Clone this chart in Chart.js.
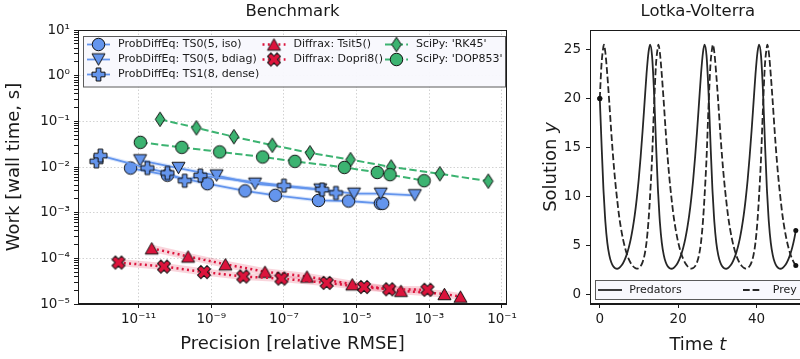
<!DOCTYPE html>
<html>
<head>
<meta charset="utf-8">
<script src="https://cdn.jsdelivr.net/npm/chart.js@4.4.1/dist/chart.umd.min.js"></script>
<style>
  html, body { margin: 0; padding: 0; background: #fff; overflow: hidden; }
  body { width: 800px; height: 359px; position: relative; }
  #bench { position: absolute; left: 0; top: 0; }
  #lv { position: absolute; left: 540px; top: 0; }
</style>
</head>
<body>
<canvas id="bench" width="520" height="359"></canvas>
<canvas id="lv" width="270" height="359"></canvas>
<script>
// ---- Benchmark: precision (relative RMSE) vs work (wall time, s) ----
const isoPrec = [6.0e-12, 6.2e-11, 7.8e-10, 8.5e-9, 5.8e-8, 8.9e-7, 6.0e-6, 4.5e-5, 5.2e-5];
const isoWork = [9.5e-3, 6.6e-3, 4.3e-3, 3.0e-3, 2.4e-3, 1.85e-3, 1.8e-3, 1.6e-3, 1.6e-3];
const bdiagPrec = [1.1e-11, 1.25e-10, 1.4e-9, 1.6e-8, 1.0e-6, 8.5e-6, 4.6e-5, 4.0e-4];
const bdiagWork = [1.4e-2, 9.5e-3, 6.5e-3, 4.3e-3, 3.2e-3, 2.6e-3, 2.6e-3, 2.4e-3];
const densePrec = [6.9e-13, 8.9e-13, 1.74e-11, 6.2e-11, 1.86e-10, 5.0e-10, 1.0e-7, 1.12e-6, 2.7e-6];
const denseWork = [1.33e-2, 1.78e-2, 9.5e-3, 7.4e-3, 5.0e-3, 6.5e-3, 3.9e-3, 3.2e-3, 2.7e-3];
const tsit5Prec = [2.3e-11, 2.3e-10, 2.45e-9, 3.0e-8, 4.3e-7, 7.6e-6, 1.66e-4, 2.6e-3, 7.2e-3];
const tsit5Work = [1.66e-4, 1.10e-4, 7.4e-5, 5.1e-5, 4.0e-5, 2.7e-5, 1.95e-5, 1.66e-5, 1.45e-5];
const dopri8Prec = [2.8e-12, 5.0e-11, 6.3e-10, 7.6e-9, 8.5e-8, 1.5e-6, 1.6e-5, 7.9e-5, 8.9e-4];
const dopri8Work = [8.1e-5, 6.6e-5, 5.0e-5, 4.0e-5, 3.6e-5, 2.9e-5, 2.35e-5, 2.1e-5, 2.05e-5];
const rk45Prec = [3.9e-11, 3.9e-10, 4.2e-9, 4.8e-8, 5.2e-7, 6.8e-6, 8.9e-5, 1.95e-3, 4.2e-2];
const rk45Work = [0.111, 0.072, 0.046, 0.030, 0.0204, 0.0145, 0.010, 7.1e-3, 4.9e-3];
const dop853Prec = [1.12e-11, 1.55e-10, 1.7e-9, 2.6e-8, 2.0e-7, 4.6e-6, 3.7e-5, 8.3e-5, 7.2e-4];
const dop853Work = [0.0347, 0.0269, 0.0214, 0.0166, 0.0133, 0.0098, 0.0076, 0.0068, 0.0050];

const benchXTickValues = [1e-11, 1e-9, 1e-7, 1e-5, 1e-3, 1e-1];
const benchXTickLabels = ['10⁻¹¹', '10⁻⁹', '10⁻⁷', '10⁻⁵', '10⁻³', '10⁻¹'];
const benchYTickValues = [1e-5, 1e-4, 1e-3, 1e-2, 1e-1, 1, 10];
const benchYTickLabels = ['10⁻⁵', '10⁻⁴', '10⁻³', '10⁻²', '10⁻¹', '10⁰', '10¹'];

// ---- Lotka-Volterra solution ----
const lvTime = [
  0, 0.42, 0.92, 1.02, 1.42, 1.92, 2.42, 2.92, 3.42, 3.92, 4.42, 4.92, 5.42, 5.92, 6.42, 6.92, 7.42, 7.92, 8.42, 8.92, 9.42, 9.92, 10.42, 10.92, 11.42, 11.92, 12.42,
  12.82, 13.32, 13.82, 14.32, 14.82, 14.92, 15.32, 15.82, 16.32, 16.82, 17.32, 17.82, 18.32, 18.82, 19.32, 19.82, 20.32, 20.82, 21.32, 21.82, 22.32, 22.82, 23.32, 23.82, 24.32, 24.82, 25.32, 25.82, 26.32,
  26.72, 27.22, 27.72, 28.22, 28.72, 28.82, 29.22, 29.72, 30.22, 30.72, 31.22, 31.72, 32.22, 32.72, 33.22, 33.72, 34.22, 34.72, 35.22, 35.72, 36.22, 36.72, 37.22, 37.72, 38.22, 38.72, 39.22, 39.72, 40.22,
  40.62, 41.12, 41.62, 42.12, 42.62, 42.72, 43.12, 43.62, 44.12, 44.62, 45.12, 45.62, 46.12, 46.62, 47.12, 47.62, 48.12, 48.62, 49.12, 49.62, 50
];
const lvPredators = [
  20, 15.6, 10.8, 10.1, 7.4, 5.25, 4.0, 3.26, 2.85, 2.66, 2.6, 2.69, 2.88, 3.17, 3.58, 4.12, 4.81, 5.68, 6.77, 8.1, 9.75, 11.7, 14.05, 16.7, 19.6, 22.5, 24.7,
  25.5, 24.4, 20.8, 15.6, 10.8, 10.1, 7.4, 5.25, 4.0, 3.26, 2.85, 2.66, 2.6, 2.69, 2.88, 3.17, 3.58, 4.12, 4.81, 5.68, 6.77, 8.1, 9.75, 11.7, 14.05, 16.7, 19.6, 22.5, 24.7,
  25.5, 24.4, 20.8, 15.6, 10.8, 10.1, 7.4, 5.25, 4.0, 3.26, 2.85, 2.66, 2.6, 2.69, 2.88, 3.17, 3.58, 4.12, 4.81, 5.68, 6.77, 8.1, 9.75, 11.7, 14.05, 16.7, 19.6, 22.5, 24.7,
  25.5, 24.4, 20.8, 15.6, 10.8, 10.1, 7.4, 5.25, 4.0, 3.26, 2.85, 2.66, 2.6, 2.69, 2.88, 3.17, 3.58, 4.12, 4.81, 5.68, 6.5
];
const lvPrey = [
  20, 23.4, 25.3, 25.5, 24.7, 22.4, 19.6, 16.6, 13.9, 11.6, 9.7, 8.0, 6.7, 5.63, 4.77, 4.08, 3.56, 3.16, 2.88, 2.70, 2.62, 2.67, 2.87, 3.28, 4.02, 5.31, 7.48,
  10.0, 13.8, 19.0, 23.4, 25.3, 25.5, 24.7, 22.4, 19.6, 16.6, 13.9, 11.6, 9.7, 8.0, 6.7, 5.63, 4.77, 4.08, 3.56, 3.16, 2.88, 2.70, 2.62, 2.67, 2.87, 3.28, 4.02, 5.31, 7.48,
  10.0, 13.8, 19.0, 23.4, 25.3, 25.5, 24.7, 22.4, 19.6, 16.6, 13.9, 11.6, 9.7, 8.0, 6.7, 5.63, 4.77, 4.08, 3.56, 3.16, 2.88, 2.70, 2.62, 2.67, 2.87, 3.28, 4.02, 5.31, 7.48,
  10.0, 13.8, 19.0, 23.4, 25.3, 25.5, 24.7, 22.4, 19.6, 16.6, 13.9, 11.6, 9.7, 8.0, 6.7, 5.63, 4.77, 4.08, 3.56, 3.16, 2.93
];
const lvXTicks = [0, 20, 40];
const lvYTicks = [0, 5, 10, 15, 20, 25];

Chart.defaults.font.family = "'DejaVu Sans', sans-serif";
Chart.defaults.color = '#1a1a1a';
Chart.defaults.animation = false;

const blue = '#6495ED', green = '#3CB371', red = '#DC143C', ink = '#1a1a1a';

// filled matplotlib-like markers drawn once into small canvases
function makeMarker(shape, fill, w, h) {
  const c = document.createElement('canvas');
  c.width = Math.ceil(w + 4);
  c.height = Math.ceil(h + 4);
  const g = c.getContext('2d');
  g.translate(c.width / 2, c.height / 2);
  const a = w / 2, b = h / 2;
  g.beginPath();
  if (shape === 'circle') {
    g.arc(0, 0, a, 0, 2 * Math.PI);
  } else if (shape === 'triUp') {
    g.moveTo(0, -b); g.lineTo(a, b); g.lineTo(-a, b); g.closePath();
  } else if (shape === 'triDown') {
    g.moveTo(0, b); g.lineTo(a, -b); g.lineTo(-a, -b); g.closePath();
  } else if (shape === 'diamond') {
    g.moveTo(0, -b); g.lineTo(a, 0); g.lineTo(0, b); g.lineTo(-a, 0); g.closePath();
  } else {
    const t = a * 0.36;
    if (shape === 'x') g.rotate(Math.PI / 4);
    const p = [[-t, -a], [t, -a], [t, -t], [a, -t], [a, t], [t, t], [t, a], [-t, a], [-t, t], [-a, t], [-a, -t], [-t, -t]];
    p.forEach((q, i) => i ? g.lineTo(q[0], q[1]) : g.moveTo(q[0], q[1]));
    g.closePath();
  }
  g.fillStyle = fill;
  g.fill();
  g.lineWidth = 1;
  g.strokeStyle = '#111';
  g.stroke();
  return c;
}

const pts = (xs, ys) => xs.map((x, i) => ({ x: x, y: ys[i] }));

function solver(label, xs, ys, color, marker, dash, width, order) {
  return {
    label: label, data: pts(xs, ys), borderColor: color, backgroundColor: color,
    borderWidth: width, borderDash: dash, pointStyle: marker, pointRadius: 6,
    pointHoverRadius: 6, order: order, tension: 0
  };
}
function band(xs, ys, color, width) {
  return { label: '', band: true, data: pts(xs, ys), borderColor: color, borderWidth: width, pointRadius: 0, order: 20 };
}

const dotted = [2, 3.3], dashed = [7.4, 3.2];
const benchSets = [
  solver('ProbDiffEq: TS0(5, iso)', isoPrec, isoWork, blue, makeMarker('circle', blue, 12.5, 12.5), [], 1.8, 7),
  solver('ProbDiffEq: TS0(5, bdiag)', bdiagPrec, bdiagWork, blue, makeMarker('triDown', blue, 13, 11.5), [], 1.8, 6),
  solver('ProbDiffEq: TS1(8, dense)', densePrec, denseWork, blue, makeMarker('plus', blue, 13, 13), [], 1.8, 5),
  solver('Diffrax: Tsit5()', tsit5Prec, tsit5Work, red, makeMarker('triUp', red, 13, 11.5), dotted, 2.5, 4),
  solver('Diffrax: Dopri8()', dopri8Prec, dopri8Work, red, makeMarker('x', red, 13.5, 13.5), dotted, 2.5, 3),
  solver("SciPy: 'RK45'", rk45Prec, rk45Work, green, makeMarker('diamond', green, 9.5, 14.5), dashed, 2, 2),
  solver("SciPy: 'DOP853'", dop853Prec, dop853Work, green, makeMarker('circle', green, 12.5, 12.5), dashed, 2, 1),
  band(isoPrec, isoWork, 'rgba(100,149,237,0.22)', 4),
  band(bdiagPrec, bdiagWork, 'rgba(100,149,237,0.22)', 4),
  band(densePrec, denseWork, 'rgba(100,149,237,0.22)', 4),
  band(tsit5Prec, tsit5Work, 'rgba(220,20,60,0.18)', 7),
  band(dopri8Prec, dopri8Work, 'rgba(220,20,60,0.18)', 7)
];

// legend slots: dataset index, column, row
const benchLegendSlots = [[0, 0, 0], [1, 0, 1], [2, 0, 2], [3, 1, 0], [4, 1, 1], [5, 2, 0], [6, 2, 1]];
const legendColX = [87, 262.5, 385];
const legendRowY = [44.5, 59.5, 74.5];

const framePlugin = {
  id: 'frame',
  afterDraw(chart) {
    const { ctx, chartArea: a } = chart;
    const l = Math.round(a.left) + 0.5, t = Math.round(a.top) + 0.5;
    const r = Math.round(a.right) - 0.5, b = Math.round(a.bottom) - 0.5;
    ctx.save();
    ctx.strokeStyle = ink;
    ctx.lineWidth = 1;
    ctx.strokeRect(l, t, r - l, b - t);
    ctx.restore();
  }
};

function legendLine(ctx, x0, x1, y, color, width, dash) {
  ctx.save();
  ctx.strokeStyle = color;
  ctx.lineWidth = width;
  ctx.setLineDash(dash || []);
  ctx.beginPath();
  ctx.moveTo(x0, y);
  ctx.lineTo(x1, y);
  ctx.stroke();
  ctx.restore();
}

const benchLegendPlugin = {
  id: 'benchLegend',
  afterDatasetsDraw(chart) {
    const ctx = chart.ctx;
    ctx.save();
    ctx.fillStyle = 'rgba(248,248,253,0.95)';
    ctx.strokeStyle = '#5a5a5a';
    ctx.lineWidth = 1;
    ctx.fillRect(83.5, 36.5, 422, 50.5);
    ctx.strokeRect(83.5, 36.5, 422, 50.5);
    ctx.font = "11px 'DejaVu Sans'";
    ctx.textBaseline = 'middle';
    benchLegendSlots.forEach(([i, col, row]) => {
      const ds = chart.data.datasets[i];
      const x0 = legendColX[col], y = legendRowY[row];
      legendLine(ctx, x0, x0 + 23, y, ds.borderColor, ds.borderWidth, ds.borderDash);
      const m = ds.pointStyle;
      ctx.drawImage(m, x0 + 11.5 - m.width / 2, y - m.height / 2);
      ctx.fillStyle = ink;
      ctx.fillText(ds.label, x0 + 31, y);
    });
    ctx.restore();
  }
};

const labelCallback = function (value, index, ticks) { return ticks[index].txt || ''; };
const gridColor = c => (c.tick && c.tick.txt) ? '#d2d2d2' : 'rgba(0,0,0,0)';

new Chart(document.getElementById('bench'), {
  type: 'line',
  data: { datasets: benchSets },
  options: {
    responsive: false,
    animation: false,
    layout: { padding: { left: 0, right: 10, top: 0, bottom: 0 } },
    plugins: {
      legend: { display: false },
      tooltip: { enabled: false },
      title: {
        display: true, text: 'Benchmark', fullSize: false, color: ink,
        font: { size: 16.5, weight: 'normal' }, padding: { top: 2, bottom: 8.2 }
      }
    },
    scales: {
      x: {
        type: 'logarithmic', min: Math.pow(10, -12.667), max: Math.pow(10, -0.863),
        afterFit: s => { s.height = 55; },
        afterBuildTicks: s => {
          s.ticks = benchXTickValues.map((v, i) => ({ value: v, txt: benchXTickLabels[i] }));
        },
        ticks: { autoSkip: false, maxRotation: 0, font: { size: 13.5 }, padding: 3, callback: labelCallback },
        grid: { color: gridColor, tickColor: ink, tickLength: 4 },
        border: { color: ink, width: 1, dash: [1.5, 2] },
        title: { display: true, text: 'Precision [relative RMSE]', color: ink, font: { size: 18 }, padding: { top: 0, bottom: 3.5 } }
      },
      y: {
        type: 'logarithmic', min: 1e-5, max: 10,
        afterFit: s => { s.width = 78; },
        afterBuildTicks: s => {
          const ticks = [];
          benchYTickValues.forEach((v, i) => {
            ticks.push({ value: v, txt: benchYTickLabels[i] });
            if (v < 10) for (let m = 2; m <= 9; m++) ticks.push({ value: v * m });
          });
          s.ticks = ticks.sort((p, q) => p.value - q.value);
        },
        ticks: { autoSkip: false, font: { size: 13.5 }, padding: 4, callback: labelCallback },
        grid: { color: gridColor, tickColor: ink, tickLength: 4 },
        border: { color: ink, width: 1, dash: [1.5, 2] },
        title: { display: true, text: 'Work [wall time, s]', color: ink, font: { size: 18 }, padding: { top: 4, bottom: 0 } }
      }
    }
  },
  plugins: [benchLegendPlugin, framePlugin]
});

// ---- Lotka-Volterra panel ----
function drawMixed(ctx, parts, cx, cy, rot) {
  ctx.save();
  ctx.translate(cx, cy);
  ctx.rotate(rot);
  ctx.textBaseline = 'middle';
  ctx.textAlign = 'left';
  const fonts = parts.map(p => p[1] + " 18px 'DejaVu Sans'");
  let total = 0;
  const widths = parts.map((p, i) => { ctx.font = fonts[i]; const w = ctx.measureText(p[0]).width; total += w; return w; });
  let x = -total / 2;
  parts.forEach((p, i) => { ctx.font = fonts[i]; ctx.fillText(p[0], x, 0); x += widths[i]; });
  ctx.restore();
}

const lvExtras = {
  id: 'lvExtras',
  afterDraw(chart) {
    const { ctx, chartArea: a } = chart;
    const ds = chart.data.datasets;
    ctx.save();
    // legend in the lower part of the axes
    ctx.fillStyle = 'rgba(248,248,253,0.95)';
    ctx.strokeStyle = '#5a5a5a';
    ctx.lineWidth = 1;
    ctx.fillRect(55.5, 280.5, 206, 19);
    ctx.strokeRect(55.5, 280.5, 206, 19);
    ctx.font = "11px 'DejaVu Sans'";
    ctx.textBaseline = 'middle';
    legendLine(ctx, 58, 82, 290, ds[0].borderColor, ds[0].borderWidth, ds[0].borderDash);
    legendLine(ctx, 203, 222, 290, ds[1].borderColor, ds[1].borderWidth, ds[1].borderDash);
    ctx.fillStyle = ink;
    ctx.fillText(ds[0].label, 89.3, 290);
    ctx.fillText(ds[1].label, 232.7, 290);
    // axis titles with italic symbols
    ctx.fillStyle = ink;
    drawMixed(ctx, [['Time ', 'normal'], ['t', 'italic']], (a.left + a.right) / 2, 345, 0);
    drawMixed(ctx, [['Solution ', 'normal'], ['y', 'italic']], 11, (a.top + a.bottom) / 2, -Math.PI / 2);
    ctx.restore();
  }
};

const endDot = c => (c.dataIndex === 0 || c.dataIndex === lvTime.length - 1) ? 2.5 : 0;

new Chart(document.getElementById('lv'), {
  type: 'line',
  data: {
    datasets: [
      {
        label: 'Predators', data: pts(lvTime, lvPredators), borderColor: '#262626', borderWidth: 1.8,
        borderDash: [], cubicInterpolationMode: 'monotone', pointRadius: endDot,
        pointBackgroundColor: '#111', pointBorderWidth: 0, pointStyle: 'circle'
      },
      {
        label: 'Prey', data: pts(lvTime, lvPrey), borderColor: '#262626', borderWidth: 1.8,
        borderDash: [6.7, 2.9], cubicInterpolationMode: 'monotone', pointRadius: endDot,
        pointBackgroundColor: '#111', pointBorderWidth: 0, pointStyle: 'circle'
      }
    ]
  },
  options: {
    responsive: false,
    animation: false,
    layout: { padding: { left: 0, right: 4.4, top: 0, bottom: 0 } },
    plugins: {
      legend: { display: false },
      tooltip: { enabled: false },
      title: {
        display: true, text: 'Lotka-Volterra', fullSize: false, color: ink,
        font: { size: 16.5, weight: 'normal' }, padding: { top: 2, bottom: 8.2 }
      }
    },
    scales: {
      x: {
        type: 'linear', min: -2.5, max: 52.5,
        afterFit: s => { s.height = 55; },
        afterBuildTicks: s => { s.ticks = lvXTicks.map(v => ({ value: v })); },
        ticks: { autoSkip: false, maxRotation: 0, font: { size: 13.5 }, padding: 3 },
        grid: { drawOnChartArea: false, tickColor: ink, tickLength: 4 },
        border: { color: ink, width: 1 }
      },
      y: {
        type: 'linear', min: -1, max: 27,
        afterFit: s => { s.width = 50; },
        afterBuildTicks: s => { s.ticks = lvYTicks.map(v => ({ value: v })); },
        ticks: { autoSkip: false, font: { size: 13.5 }, padding: 5 },
        grid: { drawOnChartArea: false, tickColor: ink, tickLength: 4 },
        border: { color: ink, width: 1 }
      }
    }
  },
  plugins: [lvExtras, framePlugin]
});
</script>
</body>
</html>
